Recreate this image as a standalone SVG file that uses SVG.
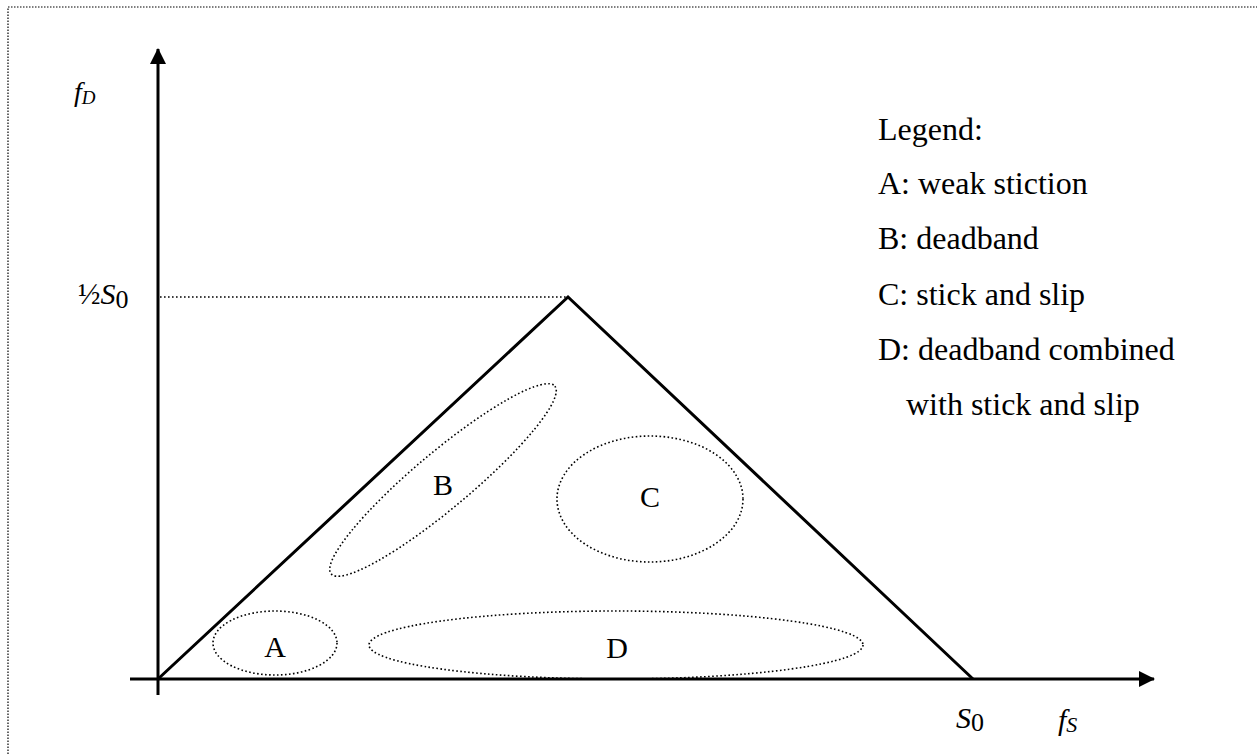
<svg xmlns="http://www.w3.org/2000/svg" width="1257" height="754" viewBox="0 0 1257 754">
<style>
.ax{stroke:#000;stroke-width:3;fill:none}
.dot{stroke:#000;stroke-width:1.6;fill:none;stroke-dasharray:1.6 2.4}
.t{font-family:"Liberation Serif",serif;font-size:30px;fill:#000}
.lg{font-size:32px}
.i{font-style:italic}
</style>
<defs>
<marker id="ah" markerWidth="16" markerHeight="16" refX="15" refY="8" orient="auto" markerUnits="userSpaceOnUse">
<path d="M0,0 L16,8 L0,16 Z" fill="#000"/>
</marker>
</defs>
<rect x="8" y="7" width="1270" height="770" fill="none" stroke="#000" stroke-width="1.2" stroke-dasharray="1.5 1.5"/>
<g id="connectors">
<line class="ax" x1="158" y1="695" x2="158" y2="49" marker-end="url(#ah)"/>
<line class="ax" x1="130" y1="679" x2="1154" y2="679" marker-end="url(#ah)"/>
<polyline class="ax" points="158,679 568,297 973,679"/>
<line class="dot" x1="160" y1="297" x2="568" y2="297"/>
</g>
<g id="nodeA"><ellipse class="dot" cx="275" cy="643" rx="62" ry="32"/><text class="t" x="275" y="657" text-anchor="middle">A</text></g>
<g id="nodeB"><ellipse class="dot" cx="443" cy="480" rx="146" ry="28" transform="rotate(-40 443 480)"/><text class="t" x="443" y="495" text-anchor="middle">B</text></g>
<g id="nodeC"><ellipse class="dot" cx="650" cy="499" rx="93" ry="63"/><text class="t" x="650" y="507" text-anchor="middle">C</text></g>
<g id="nodeD"><ellipse class="dot" cx="616" cy="645" rx="247" ry="34"/><text class="t" x="617" y="658" text-anchor="middle">D</text></g>
<g id="labels">
<text class="t" x="74" y="101"><tspan class="i" font-size="28">f</tspan><tspan class="i" font-size="19" dy="3">D</tspan></text>
<text class="t" x="78" y="304">½<tspan class="i">S</tspan><tspan font-size="26" dy="4">0</tspan></text>
<text class="t" x="956" y="728"><tspan class="i">S</tspan><tspan font-size="26" dy="3">0</tspan></text>
<text class="t" x="1058" y="730"><tspan class="i">f</tspan><tspan class="i" font-size="22" dy="2">S</tspan></text>
<text class="t lg" x="878" y="140">Legend:</text>
<text class="t lg" x="878" y="194">A: weak stiction</text>
<text class="t lg" x="878" y="249">B: deadband</text>
<text class="t lg" x="878" y="305">C: stick and slip</text>
<text class="t lg" x="878" y="360">D: deadband combined</text>
<text class="t lg" x="906" y="415">with stick and slip</text>
</g>
</svg>
